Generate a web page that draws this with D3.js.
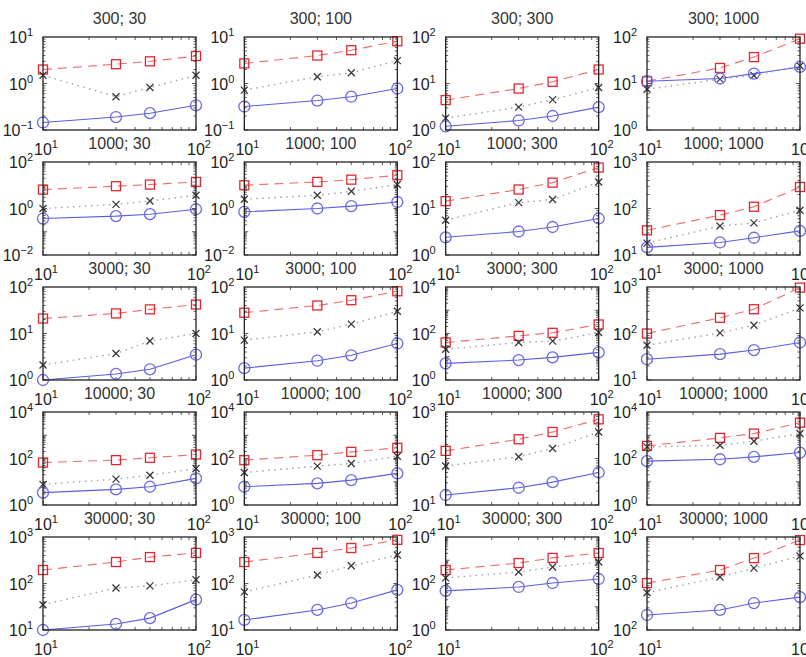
<!DOCTYPE html>
<html>
<head>
<meta charset="utf-8">
<script src="https://cdn.jsdelivr.net/npm/d3@7/dist/d3.min.js"></script>
<style>
  body { margin: 0; background: #fff; }
  text { font-family: "Liberation Sans", Arial, Helvetica, sans-serif; }
</style>
</head>
<body>
<svg id="chart" width="806" height="657"></svg>
<script>
// x positions shared by every panel
const xValues = [10, 30, 50, 100];
// panel grid: rows by N, columns by M (title "N; M")
const rowN = [300, 1000, 3000, 10000, 30000];
const colM = [30, 100, 300, 1000];
// log10 extent of the y axis of each panel (row-major)
const yExtents = [
  [-1, 1], [-1, 1], [0, 2], [0, 2],
  [-2, 2], [-2, 2], [0, 2], [1, 3],
  [0, 2], [0, 2], [0, 4], [1, 3],
  [0, 4], [0, 4], [1, 3], [0, 4],
  [1, 3], [1, 3], [0, 4], [2, 4]
];
// red dashed series with square markers
const squareSeries = [
  [2.0, 2.6, 3.0, 3.9], [2.7, 4.0, 5.2, 8.1], [4.4, 7.8, 10.9, 20], [11.2, 21.6, 37, 92],
  [6.5, 9.1, 10.7, 13.9], [10, 13.9, 17.4, 27], [14.4, 25.6, 36, 76], [34, 72, 109, 290],
  [21, 27, 33, 42], [28, 40, 52, 81], [41, 79, 107, 244], [100, 218, 333, 970],
  [67, 85, 107, 148], [85, 139, 193, 288], [146, 259, 372, 695], [348, 770, 1180, 3470],
  [195, 290, 370, 455], [290, 455, 580, 870], [380, 760, 1260, 2050], [1020, 1950, 3520, 8600]
];
// gray dotted series with cross markers
const crossSeries = [
  [1.5, 0.52, 0.82, 1.5], [0.72, 1.4, 1.7, 3.1], [1.8, 3.1, 4.5, 8.2], [7.5, 12.4, 14.8, 24],
  [1.0, 1.5, 2.1, 3.7], [2.5, 3.7, 5.5, 10.7], [5.6, 13.4, 15.6, 37], [18, 42, 49, 92],
  [2.1, 3.7, 6.9, 10], [7.2, 10.9, 15.9, 30], [21, 41, 47, 110], [56, 103, 150, 355],
  [7.7, 13, 19, 37], [25, 47, 61, 126], [69, 109, 164, 372], [316, 372, 550, 1180],
  [35, 80, 89, 120], [66, 152, 240, 410], [174, 310, 510, 840], [630, 1380, 2140, 3900]
];
// blue solid series with circle markers
const circleSeries = [
  [0.145, 0.19, 0.23, 0.34], [0.32, 0.43, 0.52, 0.78], [1.2, 1.6, 2.0, 3.1], [11.2, 12.8, 16.3, 22.7],
  [0.37, 0.47, 0.57, 0.93], [0.72, 1.0, 1.26, 1.9], [2.4, 3.2, 4.0, 6.1], [14.6, 18.6, 23.5, 33],
  [1.0, 1.35, 1.7, 3.5], [1.8, 2.6, 3.4, 6.1], [5.2, 7.2, 9.4, 15.4], [28, 36, 44, 64],
  [3.4, 4.7, 6.1, 14], [6.1, 8.5, 11.8, 23], [16.4, 23.5, 31, 50], [77, 93, 118, 180],
  [10, 13.5, 18, 45], [16.5, 27, 38, 73], [48, 71, 105, 156], [210, 270, 380, 510]
];

const svg = d3.select("#chart");
const W = 153, H = 93;
const colPos = d3.scaleLinear().domain([0, colM.length - 1]).range([43, 647]);
const rowPos = d3.scaleLinear().domain([0, rowN.length - 1]).range([37, 537]);

const seriesStyles = [
  { data: squareSeries, line: "#f06a6a", dash: "9,6", width: 1.1, marker: "square", mark: "#e4262c" },
  { data: crossSeries, line: "#a0a0a0", dash: "1.5,4.5", width: 1.4, marker: "cross", mark: "#3a3a3a" },
  { data: circleSeries, line: "#5d5de0", dash: null, width: 1.1, marker: "circle", mark: "#6a6ae6" }
];

function powerLabel(sel, exp) {
  sel.append("tspan").text("10");
  sel.append("tspan").attr("dy", -7).attr("font-size", 11).text(String(exp).replace("-", "\u2212"));
}

rowN.forEach((n, r) => {
  colM.forEach((m, c) => {
    const idx = r * colM.length + c;
    const [lo, hi] = yExtents[idx];
    const x = d3.scaleLog().domain([10, 100]).range([0, W]);
    const y = d3.scaleLog().domain([Math.pow(10, lo), Math.pow(10, hi)]).range([H, 0]);
    const g = svg.append("g").attr("transform", `translate(${colPos(c)},${rowPos(r)})`);

    // title
    g.append("text").attr("x", W / 2).attr("y", -13).attr("text-anchor", "middle")
      .attr("font-size", 16).attr("fill", "#333").text(`${n}; ${m}`);

    // ticks (inward, on all four sides)
    const ticks = g.append("g").attr("stroke", "#333").attr("stroke-width", 0.8);
    const xt = d3.range(10, 101, 10);
    xt.forEach(v => {
      const len = (v === 10 || v === 100) ? 4 : 3;
      ticks.append("line").attr("x1", x(v)).attr("x2", x(v)).attr("y1", H).attr("y2", H - len);
      ticks.append("line").attr("x1", x(v)).attr("x2", x(v)).attr("y1", 0).attr("y2", len);
    });
    for (let e = lo; e < hi; e++) {
      for (let k = 1; k <= 9; k++) {
        const v = k * Math.pow(10, e);
        const len = k === 1 ? 4 : 2.5;
        ticks.append("line").attr("x1", 0).attr("x2", len).attr("y1", y(v)).attr("y2", y(v));
        ticks.append("line").attr("x1", W).attr("x2", W - len).attr("y1", y(v)).attr("y2", y(v));
      }
    }

    // series
    const line = d3.line().x((d, i) => x(xValues[i])).y(d => y(d));
    seriesStyles.forEach(s => {
      const vals = s.data[idx];
      g.append("path").attr("d", line(vals)).attr("fill", "none")
        .attr("stroke", s.line).attr("stroke-width", s.width)
        .attr("stroke-dasharray", s.dash);
      const mk = g.append("g").attr("fill", "none").attr("stroke", s.mark).attr("stroke-width", 1.3);
      vals.forEach((v, i) => {
        const px = x(xValues[i]), py = y(v);
        if (s.marker === "square") {
          mk.append("rect").attr("x", px - 4.5).attr("y", py - 4.5).attr("width", 9).attr("height", 9);
        } else if (s.marker === "circle") {
          mk.append("circle").attr("cx", px).attr("cy", py).attr("r", 5.5);
        } else {
          const a = 3.5;
          mk.append("path").attr("d", `M${px - a},${py - a}L${px + a},${py + a}M${px - a},${py + a}L${px + a},${py - a}`);
        }
      });
    });

    // frame
    g.append("rect").attr("width", W).attr("height", H).attr("fill", "none")
      .attr("stroke", "#222").attr("stroke-width", 1.3);

    // y labels
    const step = (hi - lo) > 2 ? 2 : 1;
    for (let e = lo; e <= hi; e += step) {
      const t = g.append("text").attr("x", -10).attr("y", y(Math.pow(10, e)) + 6)
        .attr("text-anchor", "end").attr("font-size", 16).attr("fill", "#222");
      powerLabel(t, e);
    }
  });
});

// x labels drawn last, over the next row's titles and labels
rowN.forEach((n, r) => {
  colM.forEach((m, c) => {
    const x = d3.scaleLog().domain([10, 100]).range([0, W]);
    const g = svg.append("g").attr("transform", `translate(${colPos(c)},${rowPos(r)})`);
    [10, 100].forEach(v => {
      const t = g.append("text").attr("x", x(v) + 3).attr("y", H + 25)
        .attr("text-anchor", "middle").attr("font-size", 16).attr("fill", "#222");
      powerLabel(t, Math.round(Math.log10(v)));
    });
  });
});
</script>
</body>
</html>
